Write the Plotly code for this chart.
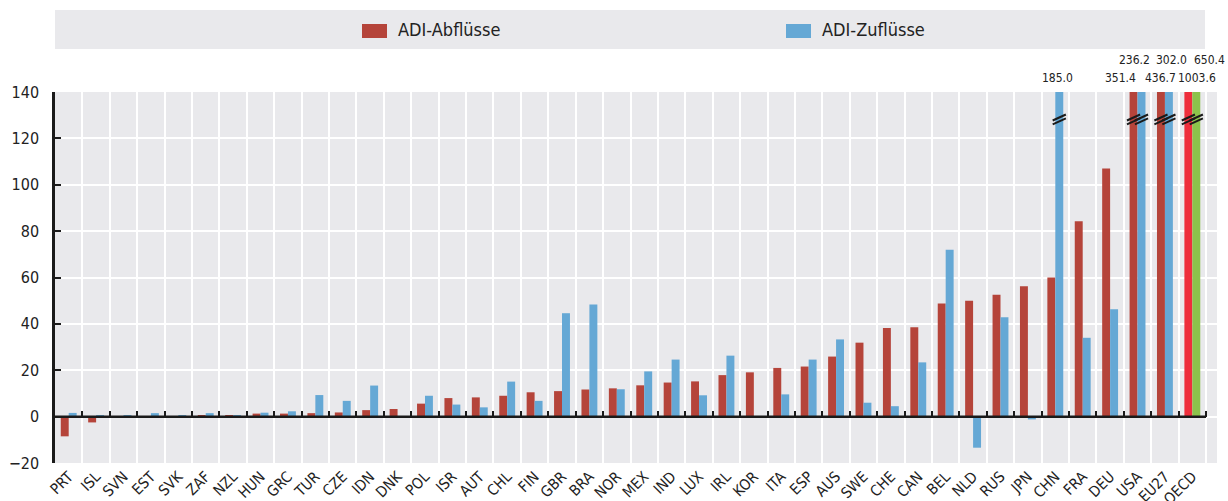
import plotly.graph_objects as go

countries = ["PRT", "ISL", "SVN", "EST", "SVK", "ZAF", "NZL", "HUN", "GRC", "TUR", "CZE", "IDN",
             "DNK", "POL", "ISR", "AUT", "CHL", "FIN", "GBR", "BRA", "NOR", "MEX", "IND", "LUX",
             "IRL", "KOR", "ITA", "ESP", "AUS", "SWE", "CHE", "CAN", "BEL", "NLD", "RUS", "JPN",
             "CHN", "FRA", "DEU", "USA", "EU27", "OECD"]
outflows = [-8.5, -2.5, 0.1, 0.0, 0.1, 0.4, 0.5, 1.3, 1.3, 1.5, 1.8, 2.8,
            3.3, 5.6, 8.0, 8.3, 9.0, 10.5, 11.0, 11.7, 12.2, 13.5, 14.7, 15.2,
            17.9, 19.1, 21.0, 21.6, 25.9, 31.9, 38.2, 38.5, 48.8, 50.0, 52.6, 56.2,
            60.0, 84.3, 107.0, 351.4, 436.7, 1003.6]
inflows = [1.6, 0.3, 0.3, 1.5, 0.5, 1.5, 0.4, 1.7, 2.3, 9.3, 6.8, 13.4,
           0.0, 9.0, 5.2, 4.0, 15.1, 6.8, 44.6, 48.4, 11.8, 19.5, 24.6, 9.2,
           26.3, 0.0, 9.6, 24.6, 33.3, 6.0, 4.5, 23.4, 72.0, -13.4, 42.9, -1.2,
           185.0, 34.0, 46.3, 236.2, 302.0, 650.4]

series_names = ["ADI-Abflüsse", "ADI-Zuflüsse"]
out_color, in_color = "#B5443A", "#65A8D5"
oecd_out_color, oecd_in_color = "#EE2E3C", "#8CC34B"
YMAX, YMIN = 140, -20

FONT = "DejaVu Sans Condensed, Liberation Sans Narrow, Arial Narrow, sans-serif"
TXT = "#222222"

W, H = 1228, 501
ML, MR, MT, MB = 55, 11, 92, 38
PW, PH = W - ML - MR, H - MT - MB
N = len(countries)
XPAD = 0.4  # empty space right of the last category


def px_x(p):  # pixel -> paper x
    return (p - ML) / PW


def px_y(p):  # pixel -> paper y
    return (H - MB - p) / PH


out_colors = [oecd_out_color if c == "OECD" else out_color for c in countries]
in_colors = [oecd_in_color if c == "OECD" else in_color for c in countries]

fig = go.Figure()
fig.add_trace(go.Bar(x=countries, y=outflows, name=series_names[0], showlegend=False,
                     marker=dict(color=out_colors, line=dict(width=0))))
fig.add_trace(go.Bar(x=countries, y=inflows, name=series_names[1], showlegend=False,
                     marker=dict(color=in_colors, line=dict(width=0))))
# invisible trace to carry the zero-line tick axis
fig.add_trace(go.Scatter(x=countries, y=[0] * N, xaxis="x2", mode="markers",
                         marker=dict(opacity=0), showlegend=False, hoverinfo="skip"))

bargap = 0.42
bw = (1 - bargap) / 2
offsets = [-bw / 2, bw / 2]

shapes = []
annotations = []
# legend band with keys
shapes.append(dict(type="rect", xref="paper", yref="paper", x0=px_x(55), x1=px_x(1205),
                   y0=px_y(49), y1=px_y(10), fillcolor="#E9E9EC", line=dict(width=0),
                   layer="below"))
legend_items = [(series_names[0], out_color, 362), (series_names[1], in_color, 786)]
for name, col, x0 in legend_items:
    shapes.append(dict(type="rect", xref="paper", yref="paper", x0=px_x(x0), x1=px_x(x0 + 25),
                       y0=px_y(38), y1=px_y(24), fillcolor=col, line=dict(width=0)))
    annotations.append(dict(x=px_x(x0 + 34), y=px_y(30), xref="paper", yref="paper",
                            text=name, showarrow=False, xanchor="left", yanchor="middle",
                            font=dict(size=18, color=TXT, family=FONT)))

# zero line spanning the categories
shapes.append(dict(type="line", xref="x", yref="y", x0=-0.5, x1=N - 0.5, y0=0, y1=0,
                   line=dict(color="#1a1a1a", width=2.5)))

# break marks for bars beyond the axis
for s, vals in enumerate([outflows, inflows]):
    for i, v in enumerate(vals):
        if v > YMAX:
            xc = i + offsets[s]
            for dy in (0.0, 1.7):
                shapes.append(dict(type="line", xref="x", yref="y",
                                   x0=xc - 0.24, x1=xc + 0.24, y0=126.0 + dy, y1=128.6 + dy,
                                   line=dict(color="#1a1a1a", width=2)))

# value labels for truncated bars (row pixel, shift, anchor chosen to avoid overlaps)
label_layout = {
    ("CHN", 1): (78, -2, "center"),
    ("USA", 0): (78, -13, "center"), ("USA", 1): (60, -7, "center"),
    ("EU27", 0): (78, 0, "center"), ("EU27", 1): (60, 3, "center"),
    ("OECD", 0): (78, 30, "right"), ("OECD", 1): (60, 31, "right"),
}
for s, vals in enumerate([outflows, inflows]):
    for i, v in enumerate(vals):
        if v > YMAX:
            ypix, xs, anc = label_layout.get((countries[i], s), (78, 0, "center"))
            annotations.append(dict(x=i + offsets[s], y=px_y(ypix), xref="x", yref="paper",
                                    text=f"{v:.1f}", showarrow=False, xshift=xs,
                                    yanchor="middle", xanchor=anc,
                                    font=dict(size=12, color=TXT, family=FONT)))

fig.update_layout(
    width=W, height=H,
    margin=dict(l=ML, r=MR, t=MT, b=MB, autoexpand=False),
    paper_bgcolor="white", plot_bgcolor="#E9E9EC",
    barmode="group", bargap=bargap, bargroupgap=0,
    font=dict(family=FONT, size=15, color=TXT),
    showlegend=False,
    xaxis=dict(type="category", categoryorder="array", categoryarray=countries,
               tickangle=-45, tickson="boundaries", ticks="", showgrid=True,
               gridcolor="white", gridwidth=1.5, showline=False, zeroline=False,
               automargin=False, ticklabelstandoff=1,
               tickfont=dict(size=15, family=FONT, color=TXT),
               range=[-0.5, N - 0.5 + XPAD]),
    xaxis2=dict(type="category", matches="x", overlaying="x", anchor="free",
                position=(0 - YMIN) / (YMAX - YMIN), side="bottom", automargin=False,
                tickson="boundaries", ticks="inside", ticklen=6, tickwidth=2,
                tickcolor="#1a1a1a", showticklabels=False, showgrid=False,
                showline=False, zeroline=False),
    yaxis=dict(range=[YMIN, YMAX], dtick=20, tick0=0, showgrid=True, gridcolor="white",
               gridwidth=1.5, zeroline=False, showline=True, linecolor="#1a1a1a",
               linewidth=2.5, ticks="inside", ticklen=6, tickwidth=2, tickcolor="#1a1a1a",
               automargin=False, ticklabelstandoff=10,
               tickfont=dict(size=16, family=FONT, color=TXT)),
    shapes=shapes, annotations=annotations,
)

fig.write_html("out.html", config={"displayModeBar": False},
               post_script="document.body.style.margin='0';document.body.style.overflow='hidden';")
